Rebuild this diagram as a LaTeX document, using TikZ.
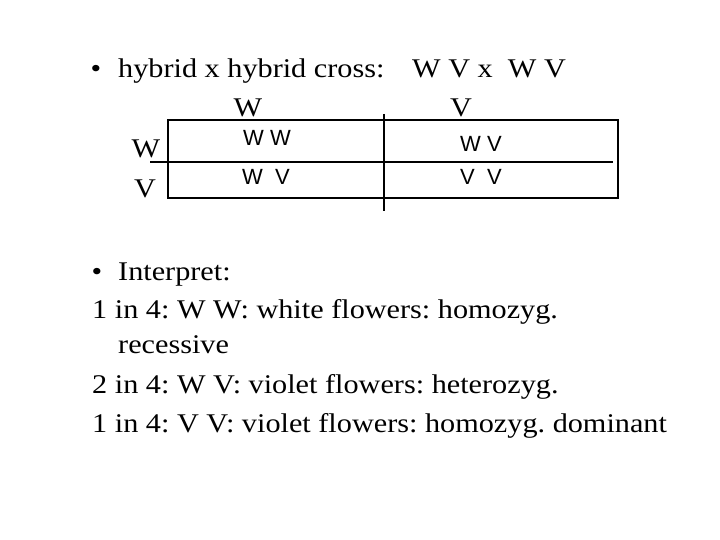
\documentclass[tikz,border=0pt]{standalone}
\usepackage{fontspec}
\setmainfont{Liberation Serif}[FakeStretch=1.12]
\newfontfamily\cellfont{Liberation Sans}
\frenchspacing
\begin{document}
\begin{tikzpicture}[x=1pt,y=-1pt,
  serif/.style={inner sep=0pt,font=\frenchspacing\fontsize{27}{30}\selectfont},
  cell/.style={inner sep=0pt,font=\cellfont\fontsize{22}{24}\selectfont},
  gridline/.style={line width=1.2pt,black}]
\useasboundingbox (0,0) rectangle (720,540);
% title
\node[serif,anchor=base] (b1) at (96,78) {\textbullet};
\node[serif,anchor=base west] (t1) at (118,78) {hybrid x hybrid cross:};
\node[serif,anchor=base west] (t2) at (412,78) {W V x\ \ W V};
% headers
\node[serif,anchor=base] (hW) at (248,117) {W};
\node[serif,anchor=base] (hV) at (461,117) {V};
\node[serif,anchor=base] (rW) at (146,158) {W};
\node[serif,anchor=base] (rV) at (145,198) {V};
% grid
\coordinate (r1) at (168,120);
\coordinate (r2) at (618,198);
\coordinate (h1) at (150,162);
\coordinate (h2) at (613,162);
\coordinate (v1) at (384,114);
\coordinate (v2) at (384,211);
\draw[gridline] (r1) rectangle (r2);
\draw[gridline] (h1) -- (h2);
\draw[gridline] (v1) -- (v2);
% cells
\node[cell,anchor=base] (c11) at (267,146) {W W};
\node[cell,anchor=base] (c12) at (481,152) {W V};
\node[cell,anchor=base] (c21) at (266,185) {W\ \ V};
\node[cell,anchor=base] (c22) at (481,185) {V\ \ V};
% interpretation
\node[serif,anchor=base] (b2) at (97,280) {\textbullet};
\node[serif,anchor=base west] (i0) at (118,280) {Interpret:};
\node[serif,anchor=base west] (i1) at (92,318) {1 in 4: W W: white flowers: homozyg.};
\node[serif,anchor=base west] (i1b) at (118,353) {recessive};
\node[serif,anchor=base west] (i2) at (92,393) {2 in 4: W V: violet flowers: heterozyg.};
\node[serif,anchor=base west] (i3) at (92,432) {1 in 4: V V: violet flowers: homozyg. dominant};
\end{tikzpicture}
\end{document}
